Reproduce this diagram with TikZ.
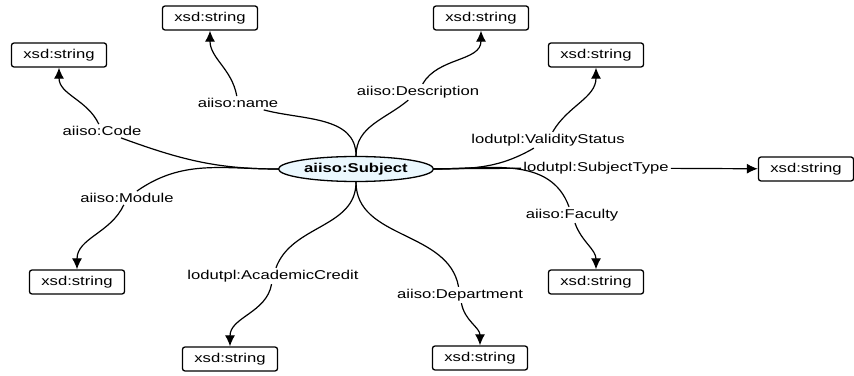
\documentclass[tikz,border=0pt]{standalone}
\usepackage{fontspec}
\setmainfont{Liberation Sans}[FakeStretch=1.3]
\usetikzlibrary{arrows.meta, shapes.geometric}
\tikzset{
  typebox/.style={draw, rounded corners=2.5pt, line width=1.3pt, minimum width=95pt, minimum height=24pt, inner sep=0pt},
  classnode/.style={draw, ellipse, line width=1.3pt, fill=cyan!8, minimum width=155pt, minimum height=25pt, inner sep=0pt, font=\fontsize{12.8}{14}\selectfont\bfseries},
  proplabel/.style={inner sep=2pt},
  edge/.style={line width=1.2pt},
  arr/.style={line width=1.2pt, -{Latex[length=11pt, width=10pt]}}
}
\begin{document}
\begin{tikzpicture}[x=1pt, y=1pt, font=\fontsize{12.8}{14}\selectfont]
\useasboundingbox (0,0) rectangle (854,375);
\node[classnode] (subject) at (356,206){aiiso:Subject};
% target types
\node[typebox] (str1) at (59,320){xsd:string};
\node[typebox] (str2) at (210,357){xsd:string};
\node[typebox] (str3) at (481,357){xsd:string};
\node[typebox] (str4) at (596,320){xsd:string};
\node[typebox] (str5) at (806,206){xsd:string};
\node[typebox] (str6) at (596,93){xsd:string};
\node[typebox] (str7) at (480,17){xsd:string};
\node[typebox] (str8) at (230,16){xsd:string};
\node[typebox] (str9) at (77,93){xsd:string};
% property labels
\node[proplabel] (code) at (102,244){aiiso:Code};
\node[proplabel] (module) at (127,177){aiiso:Module};
\node[proplabel] (name) at (238,272){aiiso:name};
\node[proplabel] (descr) at (418,283){aiiso:Description};
\node[proplabel] (validity) at (548,235){lodutpl:ValidityStatus};
\node[proplabel] (subjtype) at (596,207){lodutpl:SubjectType};
\node[proplabel] (faculty) at (572,160){aiiso:Faculty};
\node[proplabel] (dept) at (460,80){aiiso:Department};
\node[proplabel] (credit) at (273,99){lodutpl:AcademicCredit};
\draw[edge](subject) to[out=180, in=-20] (code);
\draw[arr](code) to[out=115, in=-90] (str1);
\draw[edge](subject) to[out=180, in=35] (module);
\draw[arr](module) to[out=-115, in=90] (str9);
\draw[edge](subject) to[out=90, in=-15] (name);
\draw[arr](name) to[out=100, in=-90] (str2);
\draw[edge](subject) to[out=90, in=-140] (descr);
\draw[arr](descr) to[out=60, in=-90] (str3);
\draw[edge](subject) to[out=0, in=-150] (validity);
\draw[arr](validity) to[out=60, in=-90] (str4);
\draw[edge](subject) -- (subjtype);
\draw[arr](subjtype) -- (str5);
\draw[edge](subject) to[out=0, in=110] (faculty);
\draw[arr](faculty) to[out=-70, in=90] (str6);
\draw[edge](subject) to[out=-90, in=100] (dept);
\draw[arr](dept) to[out=-80, in=90] (str7);
\draw[edge](subject) to[out=-90, in=70] (credit);
\draw[arr](credit) to[out=-100, in=90] (str8);
\end{tikzpicture}
\end{document}
